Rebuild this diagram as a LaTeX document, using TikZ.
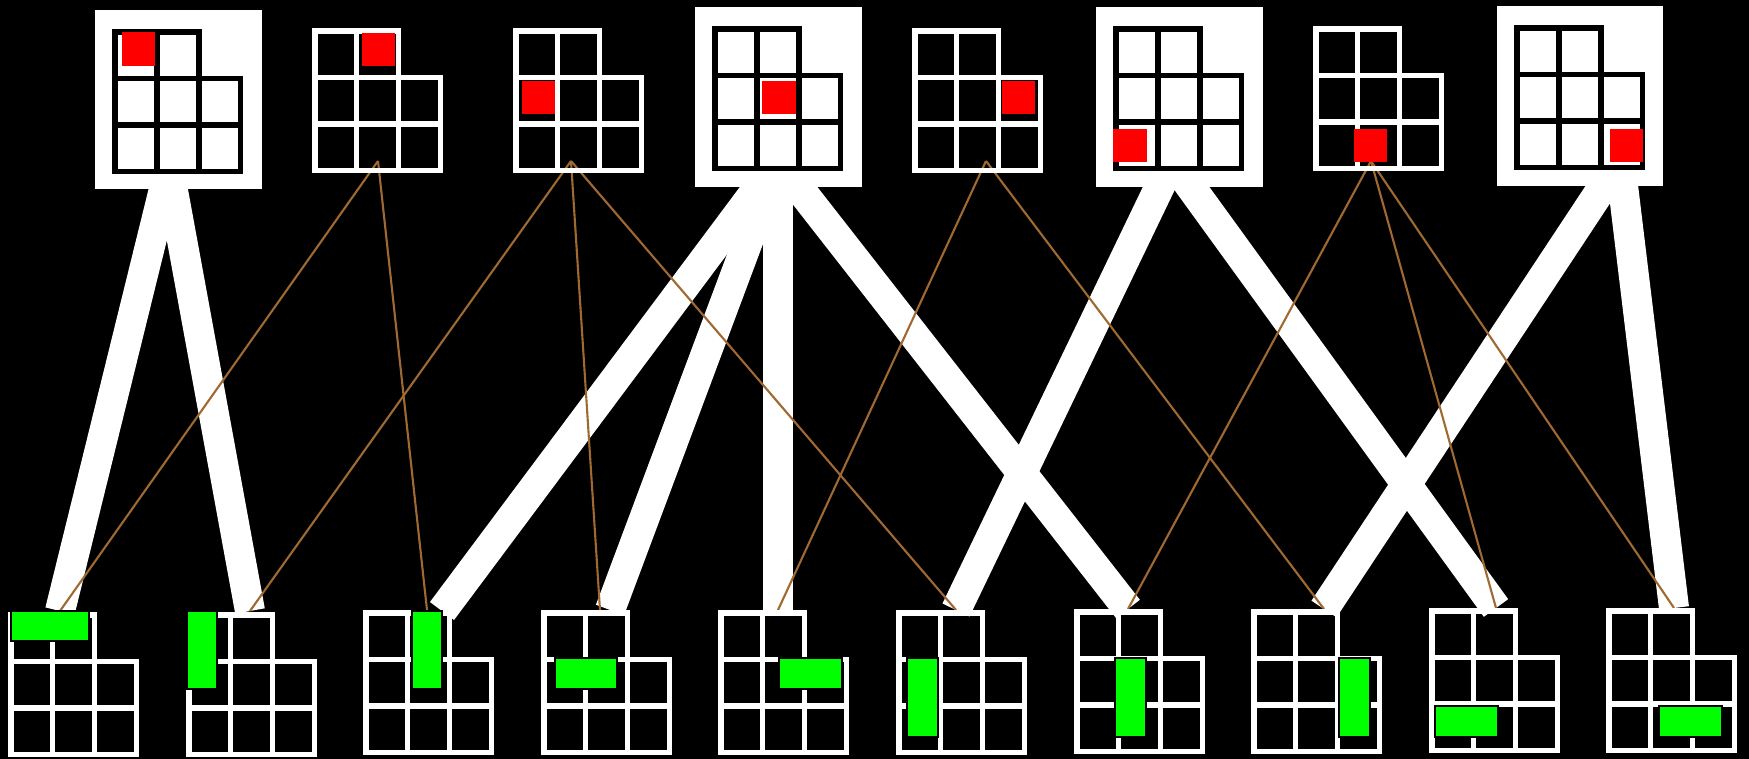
\documentclass[tikz,border=0pt]{standalone}
\usepackage{tikz}
\usetikzlibrary{calc}
\usepackage{xcolor}
\definecolor{edgebrown}{RGB}{160,105,50}
\definecolor{dominogreen}{RGB}{0,255,0}
\definecolor{cellred}{RGB}{255,0,0}
\tikzset{
  thickedge/.style={white,line width=17.1pt},
  thinedge/.style={edgebrown,line width=1.2pt},
  gridline/.style={line width=2.9pt,line join=miter},
  darkgrid/.style={black,gridline/.append style={line width=3.3pt}},
  domino/.style={fill=dominogreen,draw=black,line width=0.6pt},
  board/.pic={
    \draw[gridline] (0,0) -- (83.6,0) -- (83.6,46.5) -- (125.4,46.5) -- (125.4,139.5) -- (0,139.5) -- cycle;
    \draw[gridline] (41.8,0) -- (41.8,139.5) (83.6,46.5) -- (83.6,139.5) (0,46.5) -- (83.6,46.5) (0,93) -- (125.4,93);
  }
}
\begin{document}
\begin{tikzpicture}[x=0.02cm,y=-0.02cm]
  \fill[black] (0,0) rectangle (1749,759);
  \useasboundingbox (0,0) rectangle (1749,759);
  % cell boards (top) and domino boards (bottom)
  \coordinate (t0) at (169,169); \coordinate (t1) at (378,161); \coordinate (t2) at (571,161); \coordinate (t3) at (778,161);
  \coordinate (t4) at (986,161); \coordinate (t5) at (1172,161); \coordinate (t6) at (1371,161); \coordinate (t7) at (1620,161);
  \coordinate (b0) at (60,611); \coordinate (b1) at (250,611); \coordinate (b2) at (427,610); \coordinate (b2w) at (442,611);
  \coordinate (b3) at (600,610); \coordinate (b3w) at (610,610); \coordinate (b4) at (778,610); \coordinate (b5) at (956,610);
  \coordinate (b6) at (1128,609); \coordinate (b7) at (1324,609); \coordinate (b8) at (1496,608); \coordinate (b9) at (1674,608);
  \draw[thickedge] (t0)--(b0); \draw[thickedge] (t0)--(b1);
  \draw[thickedge] (t3)--(b2w); \draw[thickedge] (t3)--(b3w); \draw[thickedge] (t3)--(b4); \draw[thickedge] (t3)--(b6);
  \draw[thickedge] (t5)--(b5); \draw[thickedge] (t5)--(b8);
  \draw[thickedge] (t7)--(b7); \draw[thickedge] (t7)--(b9);
  \draw[thinedge] (t1)--(b0); \draw[thinedge] (t1)--(b2);
  \draw[thinedge] (t2)--(b1); \draw[thinedge] (t2)--(b3); \draw[thinedge] (t2)--(b5);
  \draw[thinedge] (t4)--(b4); \draw[thinedge] (t4)--(b7);
  \draw[thinedge] (t6)--(b6); \draw[thinedge] (t6)--(b8); \draw[thinedge] (t6)--(b9);
  \fill[white] (95,10) rectangle (262,189); \fill[white] (695,7) rectangle (862,187);
  \fill[white] (1096,7) rectangle (1263,187); \fill[white] (1497,6) rectangle (1663,186);
  \pic[darkgrid] at (115,32) {board}; \pic[white] at (315,31) {board}; \pic[white] at (516,31) {board}; \pic[darkgrid] at (715,29) {board};
  \pic[white] at (915,31) {board}; \pic[darkgrid] at (1116,29) {board}; \pic[white] at (1316,29) {board}; \pic[darkgrid] at (1517,28) {board};
  \pic[white] at (11,615) {board}; \pic[white] at (189,615) {board}; \pic[white] at (366,613) {board}; \pic[white] at (544,613) {board};
  \pic[white] at (721,613) {board}; \pic[white] at (899,613) {board}; \pic[white] at (1077,612) {board}; \pic[white] at (1254,612) {board};
  \pic[white] at (1432,611) {board}; \pic[white] at (1609,611) {board};
  \fill[cellred] (122,32) rectangle (155,66); \fill[cellred] (362,33) rectangle (395,66);
  \fill[cellred] (522,81) rectangle (555,114); \fill[cellred] (762,81) rectangle (796,114);
  \fill[cellred] (1002,81) rectangle (1035,114); \fill[cellred] (1113,129) rectangle (1147,162);
  \fill[cellred] (1354,129) rectangle (1387,162); \fill[cellred] (1610,129) rectangle (1643,162);
  \draw[domino] (11,611) rectangle (89,641); \draw[domino] (187,611) rectangle (217,689);
  \draw[domino] (412,611) rectangle (442,689); \draw[domino] (555,658) rectangle (617,689);
  \draw[domino] (779,658) rectangle (842,689); \draw[domino] (907,658) rectangle (938,737);
  \draw[domino] (1115,658) rectangle (1146,737); \draw[domino] (1339,658) rectangle (1370,737);
  \draw[domino] (1435,706) rectangle (1498,737); \draw[domino] (1659,706) rectangle (1722,737);
\end{tikzpicture}
\end{document}
